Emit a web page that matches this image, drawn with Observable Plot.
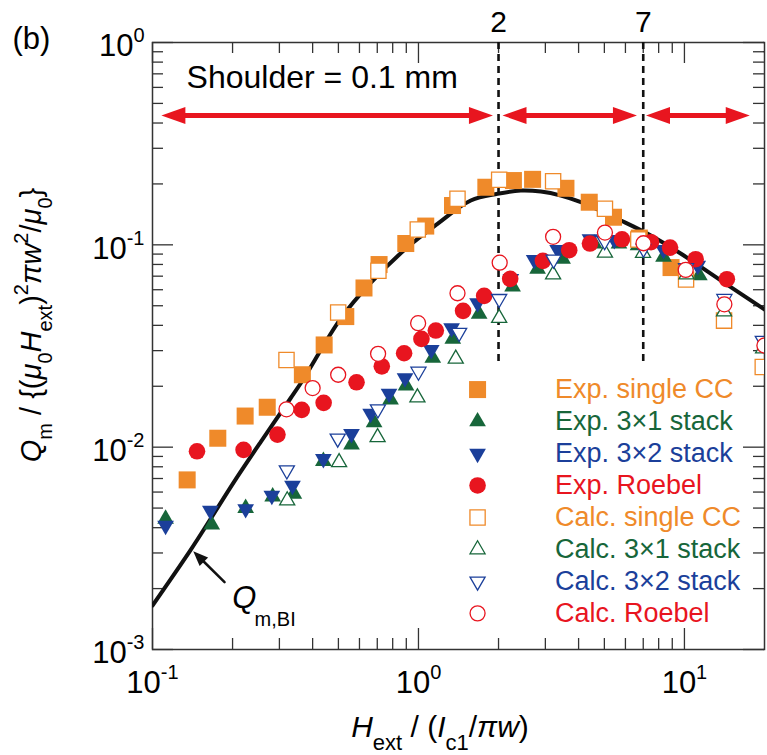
<!DOCTYPE html>
<html>
<head>
<meta charset="utf-8">
<script src="https://cdn.jsdelivr.net/npm/d3@7"></script>
<script src="https://cdn.jsdelivr.net/npm/@observablehq/plot@0.6"></script>
<style>
  body { margin: 0; background: #fff; }
  #chart { width: 767px; height: 755px; }
  svg { display: block; }
</style>
</head>
<body>
<div id="chart"></div>
<script>
// Normalized magnetization loss Q_m / {(mu0 Hext)^2 pi w^2 / mu0} versus Hext / (Ic1 / pi w)

// Measured: single coated conductor
const expSingleX = [0.135, 0.176, 0.223, 0.270, 0.366, 0.442, 0.533, 0.624, 0.711, 0.896, 1.065, 1.343, 1.792, 2.275, 2.686, 3.585, 4.386, 5.411, 6.767, 8.905];
const expSingleY = [0.00689, 0.01107, 0.01425, 0.01575, 0.0228, 0.0320, 0.0442, 0.0612, 0.0799, 0.1015, 0.1238, 0.1564, 0.1926, 0.2078, 0.2107, 0.1903, 0.1624, 0.1369, 0.108, 0.0772];
// Measured: 3x1 stack
const exp31X = [0.112, 0.167, 0.224, 0.283, 0.340, 0.439, 0.560, 0.681, 0.785, 0.898, 1.132, 1.346, 1.691, 2.259, 2.805, 3.483, 4.58, 5.674, 6.69, 8.344, 11.38];
const exp31Y = [0.00442, 0.00414, 0.0050, 0.0057, 0.00588, 0.00852, 0.0103, 0.01327, 0.01719, 0.02016, 0.02757, 0.03429, 0.0456, 0.0622, 0.0761, 0.0853, 0.1012, 0.1012, 0.0992, 0.0872, 0.0705];
// Measured: 3x2 stack
const exp32X = [0.112, 0.165, 0.224, 0.281, 0.336, 0.439, 0.560, 0.661, 0.775, 0.890, 1.117, 1.332, 1.668, 2.225, 2.723, 3.336, 4.413, 5.448, 6.69, 8.344, 11.22];
const exp32Y = [0.0041, 0.00486, 0.00495, 0.00576, 0.00646, 0.00875, 0.01163, 0.01466, 0.01841, 0.02196, 0.0303, 0.03879, 0.05158, 0.0679, 0.0844, 0.0946, 0.1068, 0.1058, 0.105, 0.0946, 0.079];
// Measured: Roebel cable
const expRoebelX = [0.147, 0.220, 0.295, 0.364, 0.440, 0.585, 0.728, 0.883, 1.026, 1.162, 1.471, 1.766, 2.212, 2.936, 3.688, 4.413, 5.824, 7.487, 8.83, 11.02, 14.44];
const expRoebelY = [0.00954, 0.0097, 0.01154, 0.01529, 0.01656, 0.02093, 0.02508, 0.02912, 0.03429, 0.03771, 0.04718, 0.05596, 0.06791, 0.08333, 0.09404, 0.1015, 0.1065, 0.103, 0.0969, 0.0849, 0.0676];
// Calculated: single coated conductor
const calcSingleX = [0.319, 0.499, 0.707, 0.994, 1.402, 2.011, 3.208, 5.025, 6.708, 10.14, 14.09, 19.7];
const calcSingleY = [0.02694, 0.04628, 0.0744, 0.119, 0.1688, 0.2098, 0.2063, 0.1507, 0.1062, 0.0674, 0.0422, 0.0249];
// Calculated: 3x1 stack
const calc31X = [0.321, 0.503, 0.702, 0.991, 1.381, 2.011, 3.208, 5.025, 6.987, 10.18, 14.09, 19.76];
const calc31Y = [0.00545, 0.00842, 0.01119, 0.01758, 0.02732, 0.04346, 0.07132, 0.0914, 0.0911, 0.0713, 0.0468, 0.0307];
// Calculated: 3x2 stack
const calc32X = [0.320, 0.497, 0.704, 1.0, 1.422, 2.011, 3.222, 5.012, 7.017, 10.14, 14.13, 19.71];
const calc32Y = [0.00769, 0.01105, 0.01539, 0.02364, 0.03677, 0.05407, 0.08459, 0.1044, 0.0958, 0.0768, 0.0541, 0.0336];
// Calculated: Roebel cable
const calcRoebelX = [0.319, 0.400, 0.499, 0.705, 0.997, 1.402, 2.02, 3.208, 5.025, 7.017, 10.11, 14.13, 19.98];
const calcRoebelY = [0.01539, 0.01959, 0.0228, 0.02892, 0.041, 0.05763, 0.0816, 0.1095, 0.115, 0.1018, 0.0752, 0.0508, 0.0318];
// Bean-model strip loss Q_m,BI
const bsX = [0.1, 0.139, 0.165, 0.202, 0.255, 0.330, 0.366, 0.510, 0.661, 0.909, 1.179, 1.573, 1.983, 2.427, 2.886, 3.432, 4.081, 5.773, 7.276, 9.71, 13.73, 20.3];
const bsY = [0.00165, 0.0031, 0.0044, 0.0067, 0.0106, 0.0174, 0.0213, 0.0432, 0.0648, 0.0973, 0.127, 0.1656, 0.1787, 0.1855, 0.1834, 0.1752, 0.1624, 0.1318, 0.1133, 0.0903, 0.0666, 0.0473];

// Field regimes marked above the curves
const regimeBounds = [2, 7];
const regimeStart = [0.108, 2.07, 7.17];
const regimeEnd = [1.905, 6.63, 17.6];

// Axis ticks
const xMajor = [0.1, 1, 10];
const yMajor = [0.001, 0.01, 0.1, 1];
const xMinor = [0.2, 0.3, 0.4, 0.5, 0.6, 0.7, 0.8, 0.9, 2, 3, 4, 5, 6, 7, 8, 9];
const yMinor = [0.002, 0.003, 0.004, 0.005, 0.006, 0.007, 0.008, 0.009, 0.02, 0.03, 0.04, 0.05, 0.06, 0.07, 0.08, 0.09, 0.2, 0.3, 0.4, 0.5, 0.6, 0.7, 0.8, 0.9];

// Legend
const legendLabels = ["Exp. single CC", "Exp. 3\u00d71 stack", "Exp. 3\u00d72 stack", "Exp. Roebel", "Calc. single CC", "Calc. 3\u00d71 stack", "Calc. 3\u00d72 stack", "Calc. Roebel"];

// ---- styling / layout ----
const ORANGE = "#EF8A2A", GREEN = "#17663A", BLUE = "#1B3F9A", RED = "#E8151F";
const W = 767, H = 755, mL = 152, mR = 3, mT = 42, mB = 106;
const frameW = W - mL - mR, frameH = H - mT - mB;
const AX = "#333";
const FONT = "'Liberation Sans', Arial, Helvetica, sans-serif";
const NARROW = "'Liberation Sans Narrow', 'Arial Narrow', 'Liberation Sans', sans-serif";

// downward triangle with the same geometry as d3.symbolTriangle
const triangleDown = {
  draw(ctx, size) {
    const y = Math.sqrt(size / (Math.sqrt(3) * 3));
    ctx.moveTo(0, 2 * y);
    ctx.lineTo(-Math.sqrt(3) * y, -y);
    ctx.lineTo(Math.sqrt(3) * y, -y);
    ctx.closePath();
  }
};
// filled arrowhead with its tip at the anchor point
function arrowHead(angleDeg, len, wid) {
  const a = angleDeg * Math.PI / 180, c = Math.cos(a), s = Math.sin(a);
  const pts = [[0, 0], [-len, -wid / 2], [-len, wid / 2]].map(([x, y]) => [x * c - y * s, x * s + y * c]);
  return {
    draw(ctx) {
      ctx.moveTo(pts[0][0], pts[0][1]);
      ctx.lineTo(pts[1][0], pts[1][1]);
      ctx.lineTo(pts[2][0], pts[2][1]);
      ctx.closePath();
    }
  };
}

const styleOf = [
  {color: ORANGE, symbol: "square", filled: true},
  {color: GREEN, symbol: "triangle", filled: true},
  {color: BLUE, symbol: triangleDown, filled: true},
  {color: RED, symbol: "circle", filled: true},
  {color: ORANGE, symbol: "square", filled: false},
  {color: GREEN, symbol: "triangle", filled: false},
  {color: BLUE, symbol: triangleDown, filled: false},
  {color: RED, symbol: "circle", filled: false}
];
const seriesXY = [
  [expSingleX, expSingleY], [exp31X, exp31Y], [exp32X, exp32Y], [expRoebelX, expRoebelY],
  [calcSingleX, calcSingleY], [calc31X, calc31Y], [calc32X, calc32Y], [calcRoebelX, calcRoebelY]
];
function radius(st) {
  if (st.symbol === "square") return st.filled ? 9.6 : 8.6;
  if (st.symbol === "circle") return st.filled ? 8.3 : 7.5;
  return st.filled ? 6.2 : 5.6;
}
function dotOptions(st) {
  return st.filled
    ? {symbol: st.symbol, r: radius(st), fill: st.color, stroke: "none"}
    : {symbol: st.symbol, r: radius(st), fill: "white", stroke: st.color, strokeWidth: 1.3};
}

const seriesMarks = seriesXY.map(([xs, ys], k) =>
  Plot.dot(d3.zip(xs, ys), {x: d => d[0], y: d => d[1], clip: true, ...dotOptions(styleOf[k])})
);

// legend placed inside the frame (log-space rows)
const legendSymbolX = 1.668, legendTextX = 3.26, legendTopY = 0.01926, legendStep = 0.695;
const legendRows = legendLabels.map((label, i) => ({label, i, y: legendTopY * Math.pow(legendStep, i), color: styleOf[i].color}));
const legendMarks = legendRows.map(row =>
  Plot.dot([row], {x: () => legendSymbolX, y: d => d.y, ...dotOptions(styleOf[row.i])})
);

const regimes = regimeStart.map((s, i) => ({s, e: regimeEnd[i]}));
const regimeY = 0.436;

const tickStyle = {stroke: AX, strokeWidth: 1.3};
const xTicks = (vals, len) => [
  Plot.tickX(vals, {x: d => d, insetTop: frameH - len, ...tickStyle}),
  Plot.tickX(vals, {x: d => d, insetBottom: frameH - len, ...tickStyle})
];
const yTicks = (vals, len) => [
  Plot.tickY(vals, {y: d => d, insetRight: frameW - len, ...tickStyle}),
  Plot.tickY(vals, {y: d => d, insetLeft: frameW - len, ...tickStyle})
];

const expFormat = d => String(Math.round(Math.log10(d)));

const chart = Plot.plot({
  width: W, height: H,
  marginLeft: mL, marginRight: mR, marginTop: mT, marginBottom: mB,
  style: {fontFamily: FONT, background: "white", color: "black", overflow: "visible"},
  x: {type: "log", domain: [0.1, 20]},
  y: {type: "log", domain: [0.001, 1]},
  marks: [
    ...xTicks(xMinor, 11), ...xTicks(xMajor, 21),
    ...yTicks(yMinor, 11), ...yTicks(yMajor, 21),
    Plot.frame({stroke: AX, strokeWidth: 1.5}),
    Plot.axisX({anchor: "bottom", ticks: xMajor, tickSize: 0, tickPadding: 21, fontSize: 31, tickFormat: expFormat, label: null}),
    Plot.axisY({anchor: "left", ticks: yMajor, tickSize: 0, tickPadding: 8, fontSize: 31, tickFormat: expFormat, label: null, dy: 4}),
    // regime boundaries
    Plot.ruleX(regimeBounds, {x: d => d, y1: 1, y2: 0.0259, stroke: "#111", strokeWidth: 2.6, strokeDasharray: "7 5"}),
    Plot.text(regimeBounds, {x: d => d, text: d => String(d), frameAnchor: "top", dy: -20, lineAnchor: "middle", fontSize: 30}),
    // regime spans (double arrows)
    Plot.ruleY(regimes, {y: () => regimeY, x1: d => d.s, x2: d => d.e, insetLeft: 16, insetRight: 16, stroke: RED, strokeWidth: 5}),
    Plot.dot(regimes, {x: d => d.s, y: () => regimeY, r: 1, symbol: arrowHead(180, 24, 17), fill: RED}),
    Plot.dot(regimes, {x: d => d.e, y: () => regimeY, r: 1, symbol: arrowHead(0, 24, 17), fill: RED}),
    Plot.text(["Shoulder = 0.1 mm"], {x: () => 0.1343, y: () => 0.671, text: d => d, textAnchor: "start", lineAnchor: "middle", fontSize: 32}),
    // Bean strip model
    Plot.line(d3.zip(bsX, bsY), {x: d => d[0], y: d => d[1], curve: "catmull-rom", stroke: "#111", strokeWidth: 4, clip: true}),
    ...seriesMarks,
    ...legendMarks,
    Plot.text(legendRows, {x: () => legendTextX, y: d => d.y, text: "label", fill: d => d.color, textAnchor: "start", lineAnchor: "middle", fontSize: 27}),
    // Q_m,BI annotation
    Plot.arrow([0], {x1: () => 0.1866, y1: () => 0.00215, x2: () => 0.1423, y2: () => 0.00306, insetEnd: 10, headLength: 0, stroke: "#111", strokeWidth: 2.5}),
    Plot.dot([0], {x: () => 0.1423, y: () => 0.00306, r: 1, symbol: arrowHead(225, 15, 12), fill: "#111"}),
    Plot.text(["Q"], {x: () => 0.1995, y: () => 0.00161, text: d => d, textAnchor: "start", lineAnchor: "bottom", fontSize: 31, fontStyle: "italic"}),
    Plot.text(["m,BI"], {x: () => 0.242, y: () => 0.00131, text: d => d, textAnchor: "start", lineAnchor: "bottom", fontSize: 20}),
    // panel tag
    Plot.text(["(b)"], {frameAnchor: "top-left", text: d => d, dx: -140, dy: -3, textAnchor: "start", lineAnchor: "middle", fontSize: 31})
  ]
});

document.getElementById("chart").appendChild(chart);

const svg = d3.select(chart.tagName.toLowerCase() === "svg" ? chart : chart.querySelector("svg"));

// powers of ten with raised exponents
svg.selectAll('g[aria-label="x-axis tick label"] text, g[aria-label="y-axis tick label"] text').each(function () {
  const t = d3.select(this);
  const e = t.text();
  t.text(null);
  t.append("tspan").text("10");
  t.append("tspan").attr("dy", -14).attr("font-size", 20).text(e);
});

// axis titles with sub/superscripts
function richText(g, parts, family, big, small, subShift, supShift) {
  const el = g.append("text").attr("font-family", family).attr("font-size", big).attr("fill", "black").attr("text-anchor", "middle");
  let off = 0;
  for (const [txt, kind] of parts) {
    const target = kind === "sub" ? subShift : kind === "sup" ? supShift : 0;
    const sp = el.append("tspan").text(txt).attr("dy", target - off);
    off = target;
    if (kind === "sub" || kind === "sup") sp.attr("font-size", small);
    if (kind === "i") sp.attr("font-style", "italic");
  }
  return el;
}
richText(svg.append("g").attr("transform", "translate(440,737)"), [
  ["H", "i"], ["ext", "sub"], [" / (", "n"], ["I", "i"], ["c1", "sub"], ["/", "n"], ["\u03c0w", "i"], [")", "n"]
], FONT, 30, 22, 13, -12);
richText(svg.append("g").attr("transform", "translate(41,325) rotate(-90)"), [
  ["Q", "i"], ["m", "sub"], [" / {(", "n"], ["\u03bc", "i"], ["0", "sub"], ["H", "i"], ["ext", "sub"], [")", "n"], ["2", "sup"],
  ["\u03c0w", "i"], ["2", "sup"], ["/", "n"], ["\u03bc", "i"], ["0", "sub"], ["}", "n"]
], NARROW, 29, 20, 11, -13);
</script>
</body>
</html>
